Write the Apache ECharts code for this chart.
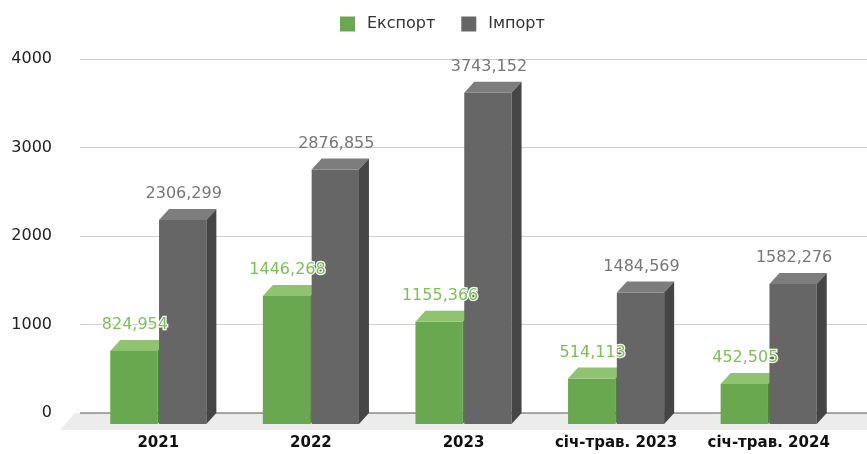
<!DOCTYPE html>
<html>
<head>
<meta charset="utf-8">
<script src="https://cdn.jsdelivr.net/npm/echarts@6/dist/echarts.min.js"></script>
<style>html,body{margin:0;padding:0;background:#fff}#c{width:867px;height:454px}</style>
</head>
<body>
<div id="c"></div>
<script>
const categories = ['2021', '2022', '2023', 'січ-трав. 2023', 'січ-трав. 2024'];
const exportValues = [824.954, 1446.268, 1155.366, 514.113, 452.505];
const importValues = [2306.299, 2876.855, 3743.152, 1484.569, 1582.276];
const seriesNames = ['Експорт', 'Імпорт'];
const yMin = 0, yMax = 4000, yStep = 1000;

const FONT = 'DejaVu Sans';
const palettes = [
  { front: '#6aa84f', top: '#8fc36f', side: '#4c8a32', label: '#7cbf55' },
  { front: '#666666', top: '#7d7d7d', side: '#454545', label: '#777777' }
];
const DX = 10, DY = 11;

function fmt(v) { return v.toFixed(3).replace('.', ','); }

function makeRender(idx) {
  const pal = palettes[idx];
  return function (params, api) {
    const cat = api.value(0), val = api.value(1);
    const top = api.coord([cat, val]);
    const base = api.coord([cat, 0]);
    const band = api.size([1, 0])[0];
    const barW = band * 0.31;
    const gap = 1.5;
    const cx = top[0];
    const x0 = idx === 0 ? cx - gap / 2 - barW : cx + gap / 2;
    const x1 = x0 + barW;
    const yT = top[1] + DY, yB = base[1] + DY;
    return {
      type: 'group',
      children: [
        { type: 'rect', shape: { x: x0, y: yT, width: barW, height: yB - yT }, style: { fill: pal.front } },
        { type: 'polygon', shape: { points: [[x0, yT], [x1, yT], [x1 + DX, yT - DY], [x0 + DX, yT - DY]] }, style: { fill: pal.top } },
        { type: 'polygon', shape: { points: [[x1, yT], [x1 + DX, yT - DY], [x1 + DX, yB - DY], [x1, yB]] }, style: { fill: pal.side } },
        { type: 'text', z2: 100, x: (x0 + x1) / 2 + 1, y: top[1] - 15,
          style: { text: fmt(val), fill: pal.label, font: '16px "' + FONT + '"', align: 'center', verticalAlign: 'middle',
                   stroke: idx === 0 ? '#ffffff' : null, lineWidth: idx === 0 ? 2.5 : 0 } }
      ]
    };
  };
}

const chart = echarts.init(document.getElementById('c'), null, { renderer: 'canvas' });
chart.setOption({
  animation: false,
  backgroundColor: '#ffffff',
  legend: {
    data: seriesNames.map((n, i) => ({ name: n, itemStyle: { color: palettes[i].front } })),
    left: 335, top: 11, itemWidth: 15, itemHeight: 15, itemGap: 26,
    icon: 'rect',
    textStyle: { fontFamily: FONT, fontSize: 16, color: '#333', padding: [0, 0, 0, 7] }
  },
  grid: [
    { left: 80, right: 0, top: 59, bottom: 41 },
    { left: 82, right: 22, top: 59, bottom: 41 }
  ],
  xAxis: [
    { type: 'category', gridIndex: 0, data: categories, show: false },
    { type: 'category', gridIndex: 1, data: categories,
      axisLine: { show: false }, axisTick: { show: false },
      axisLabel: { interval: 0, margin: 23, fontFamily: FONT, fontSize: 15, fontWeight: 'bold', color: '#111' } }
  ],
  yAxis: [
    { type: 'value', gridIndex: 0, min: yMin, max: yMax, interval: yStep,
      axisLine: { show: false }, axisTick: { show: false },
      axisLabel: { margin: 28, fontFamily: FONT, fontSize: 16, color: '#222', formatter: v => String(v) },
      splitLine: { lineStyle: { color: '#d0d0d0', width: 1 } } },
    { type: 'value', gridIndex: 1, min: yMin, max: yMax, interval: yStep, show: false, splitLine: { show: false } }
  ],
  series: [
    { type: 'custom', name: 'floor', xAxisIndex: 0, yAxisIndex: 0, z: 1, silent: true,
      data: [[0, 0]],
      renderItem: function (params, api) {
        const cs = params.coordSys;
        const zy = api.coord([0, 0])[1];
        const W = api.getWidth();
        return { type: 'group', children: [
          { type: 'polygon', shape: { points: [[cs.x - 5, zy], [W, zy], [W, zy + 17], [cs.x - 20, zy + 17]] }, style: { fill: '#ececec' } },
          { type: 'line', shape: { x1: cs.x, y1: zy, x2: W, y2: zy }, style: { stroke: '#555555', lineWidth: 1 } }
        ] };
      } },
    { type: 'custom', name: seriesNames[0], xAxisIndex: 1, yAxisIndex: 1, z: 2,
      itemStyle: { color: palettes[0].front },
      data: exportValues.map((v, i) => [i, v]), renderItem: makeRender(0) },
    { type: 'custom', name: seriesNames[1], xAxisIndex: 1, yAxisIndex: 1, z: 2,
      itemStyle: { color: palettes[1].front },
      data: importValues.map((v, i) => [i, v]), renderItem: makeRender(1) }
  ]
});
</script>
</body>
</html>
